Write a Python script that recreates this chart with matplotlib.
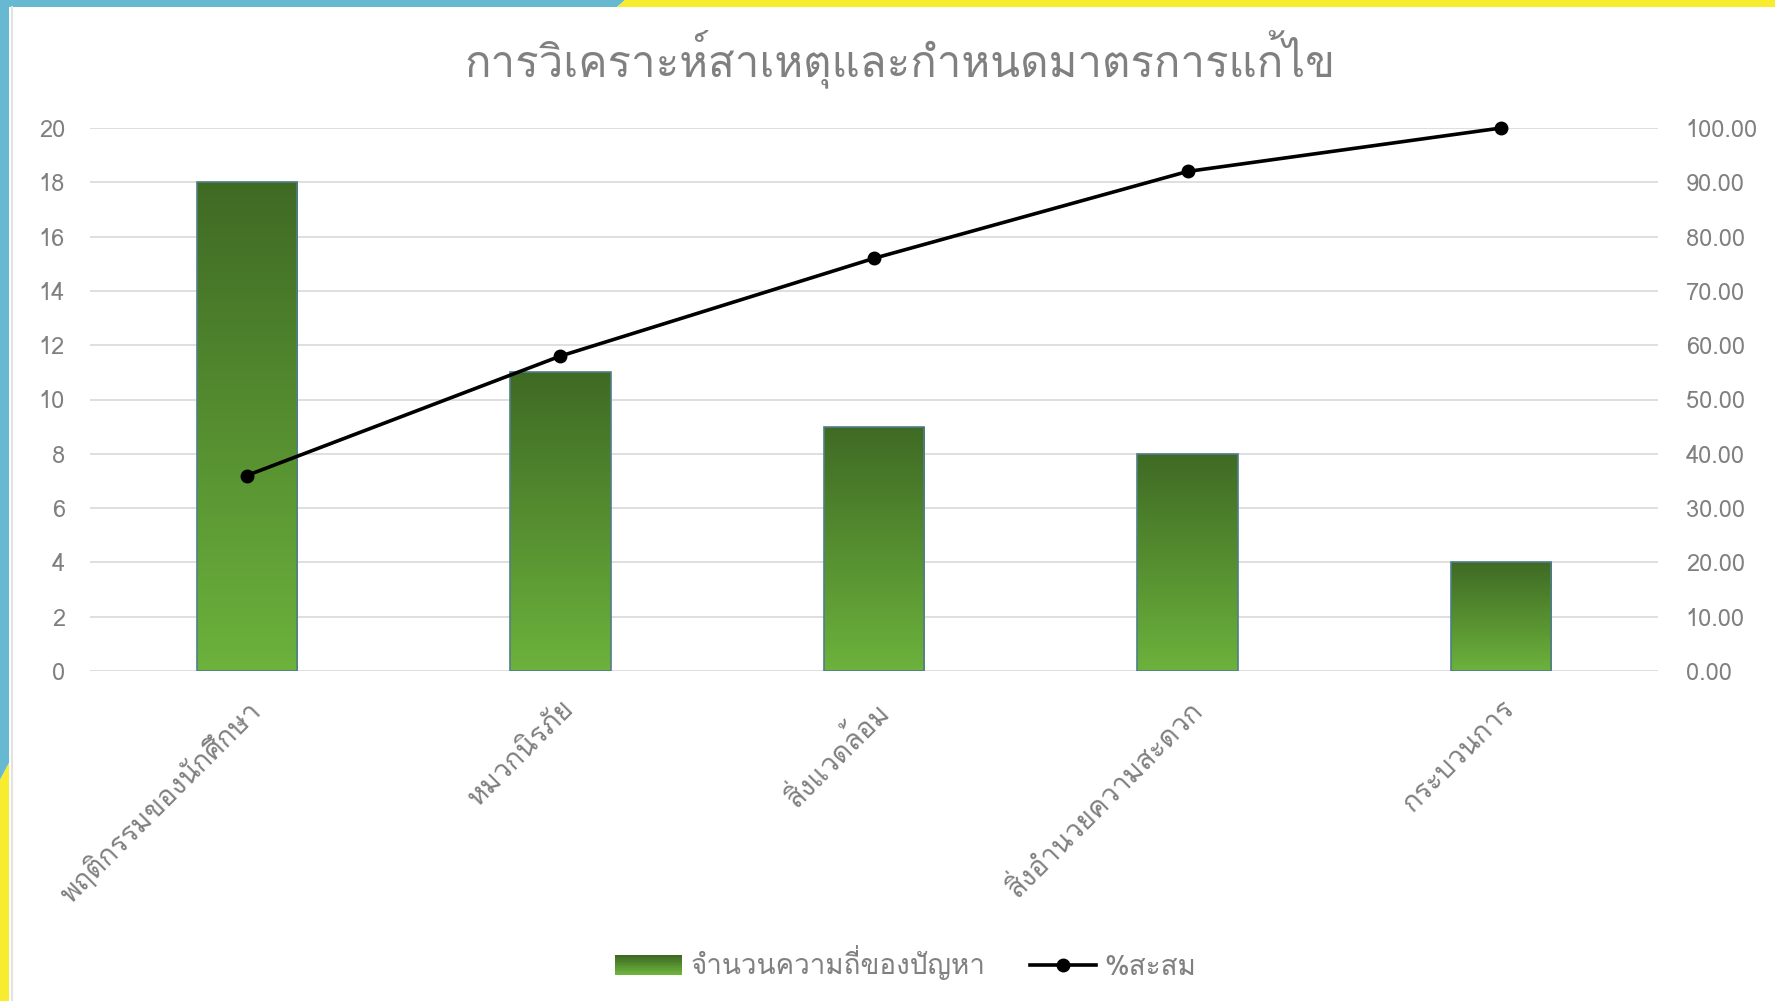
import numpy as np
import matplotlib
matplotlib.use("Agg")
import matplotlib.pyplot as plt
from matplotlib import font_manager as fm
from matplotlib.colors import LinearSegmentedColormap
from matplotlib.patches import Rectangle, Polygon
from matplotlib.lines import Line2D
from matplotlib.legend_handler import HandlerPatch

# ---------------- data ----------------
categories = ["พฤติกรรมของนักศึกษา", "หมวกนิรภัย", "สิ่งแวดล้อม", "สิ่งอำนวยความสะดวก", "กระบวนการ"]
frequency = [18, 11, 9, 8, 4]
cumulative_pct = [36.0, 58.0, 76.0, 92.0, 100.0]
left_ticks = [0, 2, 4, 6, 8, 10, 12, 14, 16, 18, 20]
right_ticks = [0, 10, 20, 30, 40, 50, 60, 70, 80, 90, 100]
title = "การวิเคราะห์สาเหตุและกำหนดมาตรการแก้ไข"
bar_label = "จำนวนความถี่ของปัญหา"
line_label = "%สะสม"

# ---------------- fonts: find one with Thai glyphs ----------------
thai_fonts = []
try:
    from fontTools.ttLib import TTFont
    seen = set()
    for f in fm.fontManager.ttflist:
        if f.name in seen:
            continue
        try:
            tt = TTFont(f.fname, fontNumber=0, lazy=True)
            cmap_ = tt.getBestCmap()
            if cmap_ and 0x0E01 in cmap_ and 0x0E32 in cmap_:
                thai_fonts.append(f.name)
                seen.add(f.name)
        except Exception:
            pass
except Exception:
    pass
families = thai_fonts[:1] + ["Open Sans", "DejaVu Sans"]
plt.rcParams["font.family"] = families

GRAY = "#808080"
GRID = "#d9d9d9"

fig = plt.figure(figsize=(17.75, 10.01), dpi=100)
fig.patch.set_facecolor("white")

ax = fig.add_axes([90 / 1775, 1 - 671 / 1001, (1658 - 90) / 1775, (671 - 128) / 1001])
x = np.arange(len(categories))

bars = ax.bar(x, frequency, width=0.32, color="none", edgecolor="#4f7f86", linewidth=1.2, zorder=3)
cmap = LinearSegmentedColormap.from_list("g", ["#6cb23c", "#3f6a24"])
grad = np.linspace(0, 1, 256).reshape(-1, 1)
for b in bars:
    x0, w, h = b.get_x(), b.get_width(), b.get_height()
    im = ax.imshow(grad, extent=[x0, x0 + w, 0, h], origin="lower", aspect="auto",
                   cmap=cmap, zorder=2, interpolation="bilinear")
    im.set_clip_path(b)

ax.set_xlim(-0.5, len(categories) - 0.5)
ax.set_ylim(0, 20)
ax.set_yticks(left_ticks)
ax.yaxis.grid(True, color=GRID, linewidth=1.2, zorder=0)
ax.set_axisbelow(True)
for s in ax.spines.values():
    s.set_visible(False)
ax.tick_params(axis="both", length=0, colors=GRAY, labelsize=17)
ax.tick_params(axis="y", pad=18)
ax.set_xticks(x)
ax.set_xticklabels(categories, rotation=45, ha="right", va="top", rotation_mode="anchor",
                   fontsize=20, color=GRAY)
ax.tick_params(axis="x", pad=18)

ax2 = ax.twinx()
ax2.set_ylim(0, 100)
ax2.set_yticks(right_ticks)
ax2.set_yticklabels([f"{v:.2f}" for v in right_ticks])
for s in ax2.spines.values():
    s.set_visible(False)
ax2.tick_params(axis="y", length=0, colors=GRAY, labelsize=17, pad=20)
ax2.plot(x, cumulative_pct, color="black", linewidth=2.6, marker="o", markersize=9, zorder=5,
         clip_on=False)

fig.text(900 / 1775, 1 - 59 / 1001, title, ha="center", va="center", fontsize=31.5, color=GRAY)

# legend
class GradHandler(HandlerPatch):
    def create_artists(self, legend, orig_handle, xdescent, ydescent, width, height, fontsize, trans):
        arts = []
        n = 12
        cols = cmap(np.linspace(0, 1, n))
        for i in range(n):
            r = Rectangle((-xdescent, -ydescent + height * i / n), width, height / n + 0.3,
                          facecolor=cols[i], edgecolor="none", transform=trans)
            arts.append(r)
        return arts

bar_handle = Rectangle((0, 0), 1, 1, facecolor="#559030")
line_handle = Line2D([], [], color="black", linewidth=2.6, marker="o", markersize=9)
leg = fig.legend([bar_handle, line_handle], [bar_label, line_label], loc="center",
                 bbox_to_anchor=(906 / 1775, 1 - 963 / 1001), ncol=2, frameon=False,
                 fontsize=20, handlelength=2.4, handleheight=0.7, columnspacing=1.6,
                 handletextpad=0.3, labelcolor=GRAY,
                 handler_map={Rectangle: GradHandler()})

# slide decorations
CYAN = "#67b9d2"
YEL = "#f8ec2e"
fig.add_artist(Polygon([(0, 1), (625 / 1775, 1), (617 / 1775, 1 - 7 / 1001), (0, 1 - 7 / 1001)],
                       closed=True, transform=fig.transFigure, facecolor=CYAN, edgecolor="none"))
fig.add_artist(Polygon([(625 / 1775, 1), (1, 1), (1, 1 - 7 / 1001), (617 / 1775, 1 - 7 / 1001)],
                       closed=True, transform=fig.transFigure, facecolor=YEL, edgecolor="none"))
fig.add_artist(Polygon([(0, 1), (9 / 1775, 1), (9 / 1775, 1 - 763 / 1001), (0, 1 - 780 / 1001)],
                       closed=True, transform=fig.transFigure, facecolor=CYAN, edgecolor="none"))
fig.add_artist(Polygon([(0, 1 - 780 / 1001), (9 / 1775, 1 - 763 / 1001), (9 / 1775, 0), (0, 0)],
                       closed=True, transform=fig.transFigure, facecolor=YEL, edgecolor="none"))
fig.add_artist(Line2D([11.5 / 1775, 11.5 / 1775], [0, 1 - 7 / 1001], transform=fig.transFigure,
                      color="#e2e2e2", linewidth=1.5))

fig.savefig("out.png", dpi=100, facecolor="white")
